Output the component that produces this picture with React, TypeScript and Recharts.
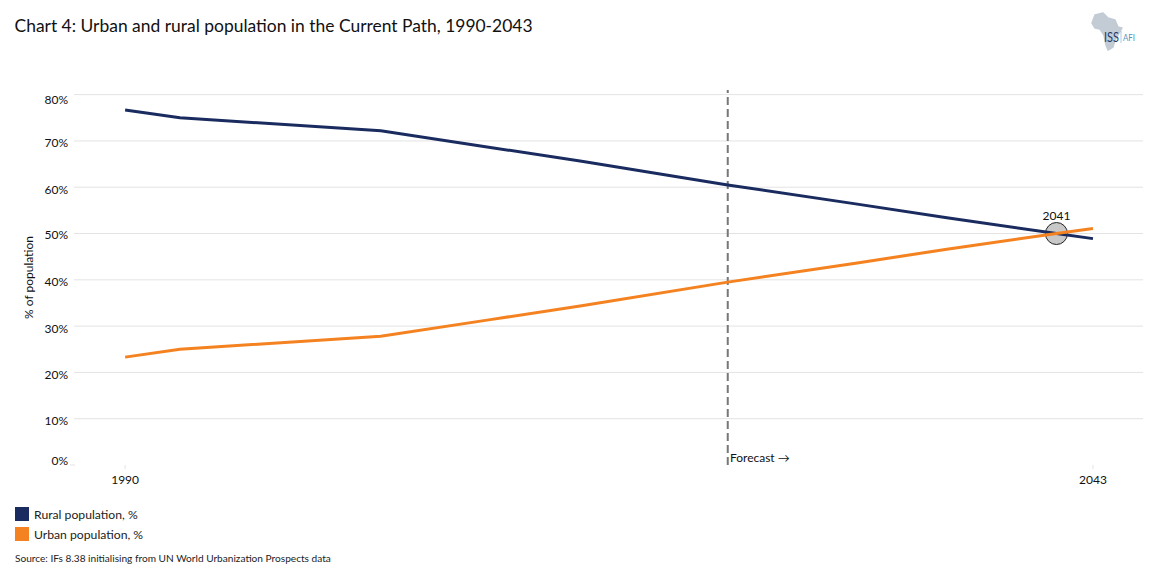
import React from 'react';
import { LineChart, Line, XAxis, YAxis, CartesianGrid, ReferenceLine, ReferenceDot, Legend } from 'recharts';

const years = [1990, 1993, 2004, 2010, 2015, 2023, 2030, 2035, 2041, 2043];
const rural = [76.7, 75.0, 72.2, 68.6, 65.6, 60.5, 56.4, 53.4, 50.0, 48.9];
const urban = [23.3, 25.0, 27.8, 31.4, 34.4, 39.5, 43.6, 46.6, 50.0, 51.1];
const yTicks = [0, 10, 20, 30, 40, 50, 60, 70, 80];
const gridValues = [10, 20, 30, 40, 50, 60, 70, 80];
const xTicks = [1990, 2043];
// labels in the original don't sit exactly on their gridlines
const labelNudge: Record<number, number> = { 0: -5, 10: 2, 20: 2, 30: 2, 40: 2, 50: 1, 60: 2, 70: 2, 80: 5 };

const RURAL_COLOR = '#1a2b5f';
const URBAN_COLOR = '#f58220';
const GRID_COLOR = '#e3e3e3';
const FONT = 'Lato, sans-serif';

const data = years.map((year, i) => ({ year, rural: rural[i], urban: urban[i] }));

const YTick = ({ x, y, payload }: any) => (
  <g>
    {payload.value === 0 && <line x1={x + 4} x2={x + 9} y1={y} y2={y} stroke={GRID_COLOR} />}
    <text x={x + 2} y={y + labelNudge[payload.value]} textAnchor="end" dominantBaseline="central" fontSize={12} fontFamily={FONT} fill="#111">
      {payload.value}%
    </text>
  </g>
);

const LegendBox = () => (
  <div style={{ fontFamily: FONT, fontSize: 12.2, color: '#222' }}>
    {[['Rural population, %', RURAL_COLOR], ['Urban population, %', URBAN_COLOR]].map(([name, color]) => (
      <div key={name} style={{ display: 'flex', alignItems: 'flex-end', height: 20 }}>
        <span style={{ width: 14, height: 14, background: color, marginRight: 5, marginBottom: 1 }} />
        <span>{name}</span>
      </div>
    ))}
  </div>
);

const Logo = () => (
  <svg width={60} height={56} viewBox="0 0 60 56" style={{ position: 'absolute', left: 1085, top: 6 }}>
    <path
      d="M10 9 L18 7 L23 12 L30 14 L33 21 L37 22 L33 29 L30 34 L28 41 L23 44 L21 39 L19 29 L15 23 L10 22 L7 17 Z"
      fill="#c3cbd5"
      stroke="#c3cbd5"
      strokeWidth={1.5}
      strokeLinejoin="round"
    />
    <text x={19} y={36} fontSize={14} fontFamily={FONT} fill="#1f3a68" textLength={15} lengthAdjust="spacingAndGlyphs">ISS</text>
    <line x1={36} y1={25} x2={36} y2={37} stroke="#8fb3cf" strokeWidth={0.7} />
    <text x={38} y={35} fontSize={8.5} fontFamily={FONT} fill="#5b93bd" textLength={12} lengthAdjust="spacingAndGlyphs">AFI</text>
  </svg>
);

const App = () => (
  <div style={{ position: 'absolute', left: 0, top: 0, width: 1154, height: 583, background: '#fff', overflow: 'hidden' }}>
    <div style={{ position: 'absolute', left: 14.5, top: 15, fontFamily: FONT, fontSize: 17.46, color: '#111', whiteSpace: 'nowrap' }}>
      Chart 4: Urban and rural population in the Current Path, 1990-2043
    </div>
    <Logo />
    <LineChart width={1154} height={583} data={data} margin={{ top: 90, right: 11, bottom: 48, left: 0 }} style={{ position: 'absolute', left: 0, top: 0 }}>
      <CartesianGrid vertical={false} stroke={GRID_COLOR} horizontalValues={gridValues} />
      <XAxis
        dataKey="year"
        type="number"
        domain={[1987.2, 2045.74]}
        ticks={xTicks}
        axisLine={false}
        tickLine={{ stroke: GRID_COLOR }}
        tickSize={4}
        tickMargin={6}
        allowDataOverflow
        tick={{ fontSize: 12, fontFamily: FONT, fill: '#111' }}
      />
      <YAxis
        width={74}
        domain={[0, 81]}
        ticks={yTicks}
        axisLine={false}
        tickLine={false}
        tick={<YTick />}
        label={{ value: '% of population', angle: -90, position: 'insideLeft', offset: 0, dx: 29, fontSize: 12, fontFamily: FONT, fill: '#111', style: { textAnchor: 'middle' } }}
      />
      <ReferenceDot
        x={2041}
        y={50}
        r={11}
        fill="#c8c8c8"
        stroke="#222"
        strokeWidth={1}
        zIndex={100}
        label={{ value: '2041', position: 'top', offset: 3, fontSize: 12, fontFamily: FONT, fill: '#111' }}
      />
      <ReferenceLine
        x={2023}
        stroke="#777"
        strokeWidth={2}
        strokeDasharray="8 4"
        label={{ value: 'Forecast →', position: 'insideBottomRight', dx: 67, dy: 2, fontSize: 12, fontFamily: FONT, fill: '#111' }}
      />
      <Line dataKey="rural" stroke={RURAL_COLOR} strokeWidth={3} dot={false} isAnimationActive={false} />
      <Line dataKey="urban" stroke={URBAN_COLOR} strokeWidth={3} dot={false} isAnimationActive={false} />
      <Legend content={<LegendBox />} layout="vertical" wrapperStyle={{ left: 15, top: 502, width: 200, bottom: 'auto' }} />
    </LineChart>
    <div style={{ position: 'absolute', left: 15, top: 552, fontFamily: FONT, fontSize: 10.12, color: '#222', whiteSpace: 'nowrap' }}>
      Source: IFs 8.38 initialising from UN World Urbanization Prospects data
    </div>
  </div>
);

export default App;
